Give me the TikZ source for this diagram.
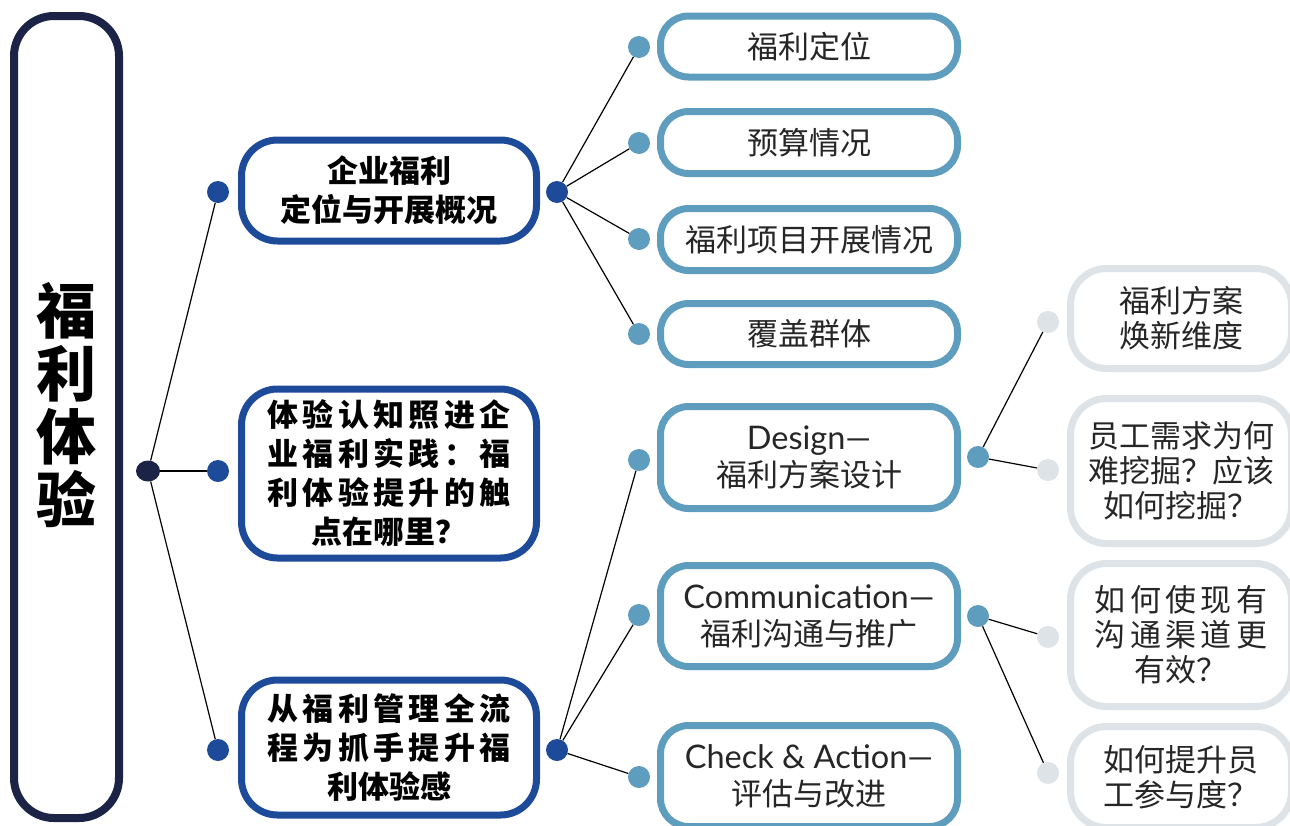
\documentclass[tikz,border=0pt]{standalone}
\usepackage{fontspec}
\setmainfont{Noto Sans CJK SC}
\newfontfamily\lat{Lato}
\usetikzlibrary{shapes.geometric}
\definecolor{navy}{HTML}{1B2447}
\definecolor{dblue}{HTML}{1E4A9A}
\definecolor{sblue}{HTML}{5F9DBF}
\definecolor{lgrey}{HTML}{DEE3E7}
\definecolor{txt}{HTML}{262626}
\newcommand{\lsp}[1]{{\addfontfeature{LetterSpace=14}#1}}
\newcommand{\latl}[1]{{\lat\fontsize{32.5}{37}\selectfont #1}}
\tikzset{
  rootbox/.style={draw=navy, line width=8pt, rounded corners=40pt, minimum width=105pt, minimum height=802pt, inner sep=0pt, fill=white},
  roottext/.style={align=center, inner sep=0pt, font=\fontsize{60}{63}\selectfont\bfseries},
  lonebox/.style={draw=dblue, line width=7pt, rounded corners=36pt, minimum width=295pt, inner sep=0pt, align=center, fill=white, font=\fontsize{31}{39}\selectfont\bfseries},
  ltwobox/.style={draw=sblue, line width=7pt, rounded corners=28pt, minimum width=297pt, inner sep=0pt, align=center, fill=white, text=txt, font=\fontsize{31}{37}\selectfont},
  lthreebox/.style={draw=lgrey, line width=7pt, rounded corners=36pt, minimum width=221pt, inner sep=0pt, align=center, fill=white, text=txt, font=\fontsize{31}{35}\selectfont},
  dot/.style={circle, minimum size=22pt, inner sep=0pt},
  conn/.style={draw=black, line width=1.2pt},
}
\begin{document}
\begin{tikzpicture}[x=1pt,y=-1pt]
\useasboundingbox (0,0) rectangle (1290,825);
\clip (0,0) rectangle (1290,825);
% root
\node[rootbox] (root) at (66.5,417) {};
\node[roottext] (roottxt) at (66,405) {福\\利\\体\\验};
\node[ellipse, fill=navy, minimum width=24pt, minimum height=21pt, inner sep=0pt] (rd) at (148,471) {};
% level 1
\node[lonebox, minimum height=101pt] (a) at (389,190.5) {企业福利\\定位与开展概况};
\node[lonebox, minimum height=169pt] (b) at (389,473.5) {\lsp{体验认知照进企}\\\lsp{业福利实践：福}\\\lsp{利体验提升的触}\\点在哪里？};
\node[lonebox, minimum height=135pt] (c) at (389,747.5) {\lsp{从福利管理全流}\\\lsp{程为抓手提升福}\\利体验感};
\node[dot, fill=dblue] (ad) at (218,192) {};
\node[dot, fill=dblue] (bd) at (218,471) {};
\node[dot, fill=dblue] (cd) at (218,750) {};
\node[dot, fill=dblue] (ar) at (557,192) {};
\node[dot, fill=dblue] (cr) at (557,750) {};
% level 2
\node[ltwobox, minimum height=61pt] (p1) at (809,46.5) {福利定位};
\node[ltwobox, minimum height=62pt] (p2) at (809,142.5) {预算情况};
\node[ltwobox, minimum height=62pt] (p3) at (809,239.5) {福利项目开展情况};
\node[ltwobox, minimum height=61pt] (p4) at (809,334) {覆盖群体};
\node[ltwobox, minimum height=102pt] (q1) at (809,457.5) {\latl{Design—}\\福利方案设计};
\node[ltwobox, minimum height=101pt] (q2) at (809,616) {\latl{Communication—}\\福利沟通与推广};
\node[ltwobox, minimum height=101pt] (q3) at (809,776) {\latl{Check \& Action—}\\评估与改进};
\foreach \n/\y in {p1/47,p2/143,p3/239,p4/334,q1/460,q2/615,q3/777}
  \node[dot, fill=sblue] (\n d) at (639,\y) {};
\node[dot, fill=sblue] (q1r) at (978,457) {};
\node[dot, fill=sblue] (q2r) at (978,616) {};
% level 3
\node[lthreebox, minimum height=100pt] (s1) at (1181,318.5) {福利方案\\焕新维度};
\node[lthreebox, minimum height=145pt] (s2) at (1181,471) {员工需求为何\\难挖掘？应该\\如何挖掘？};
\node[lthreebox, minimum height=143pt] (s3) at (1181,635) {\lsp{如何使现有}\\\lsp{沟通渠道更}\\有效？};
\node[lthreebox, minimum height=101pt] (s4) at (1181,777) {如何提升员\\工参与度？};
\foreach \n/\y in {s1/322,s2/470,s3/637,s4/773}
  \node[dot, fill=lgrey] (\n d) at (1048,\y) {};
% connectors
\draw[conn] (rd) -- (ad);
\draw[conn] (rd) -- (bd);
\draw[conn] (rd) -- (cd);
\foreach \n in {p1,p2,p3,p4} \draw[conn] (ar) -- (\n d);
\foreach \n in {q1,q2,q3} \draw[conn] (cr) -- (\n d);
\draw[conn] (q1r) -- (s1d);
\draw[conn] (q1r) -- (s2d);
\draw[conn] (q2r) -- (s3d);
\draw[conn] (q2r) -- (s4d);
\end{tikzpicture}
\end{document}
